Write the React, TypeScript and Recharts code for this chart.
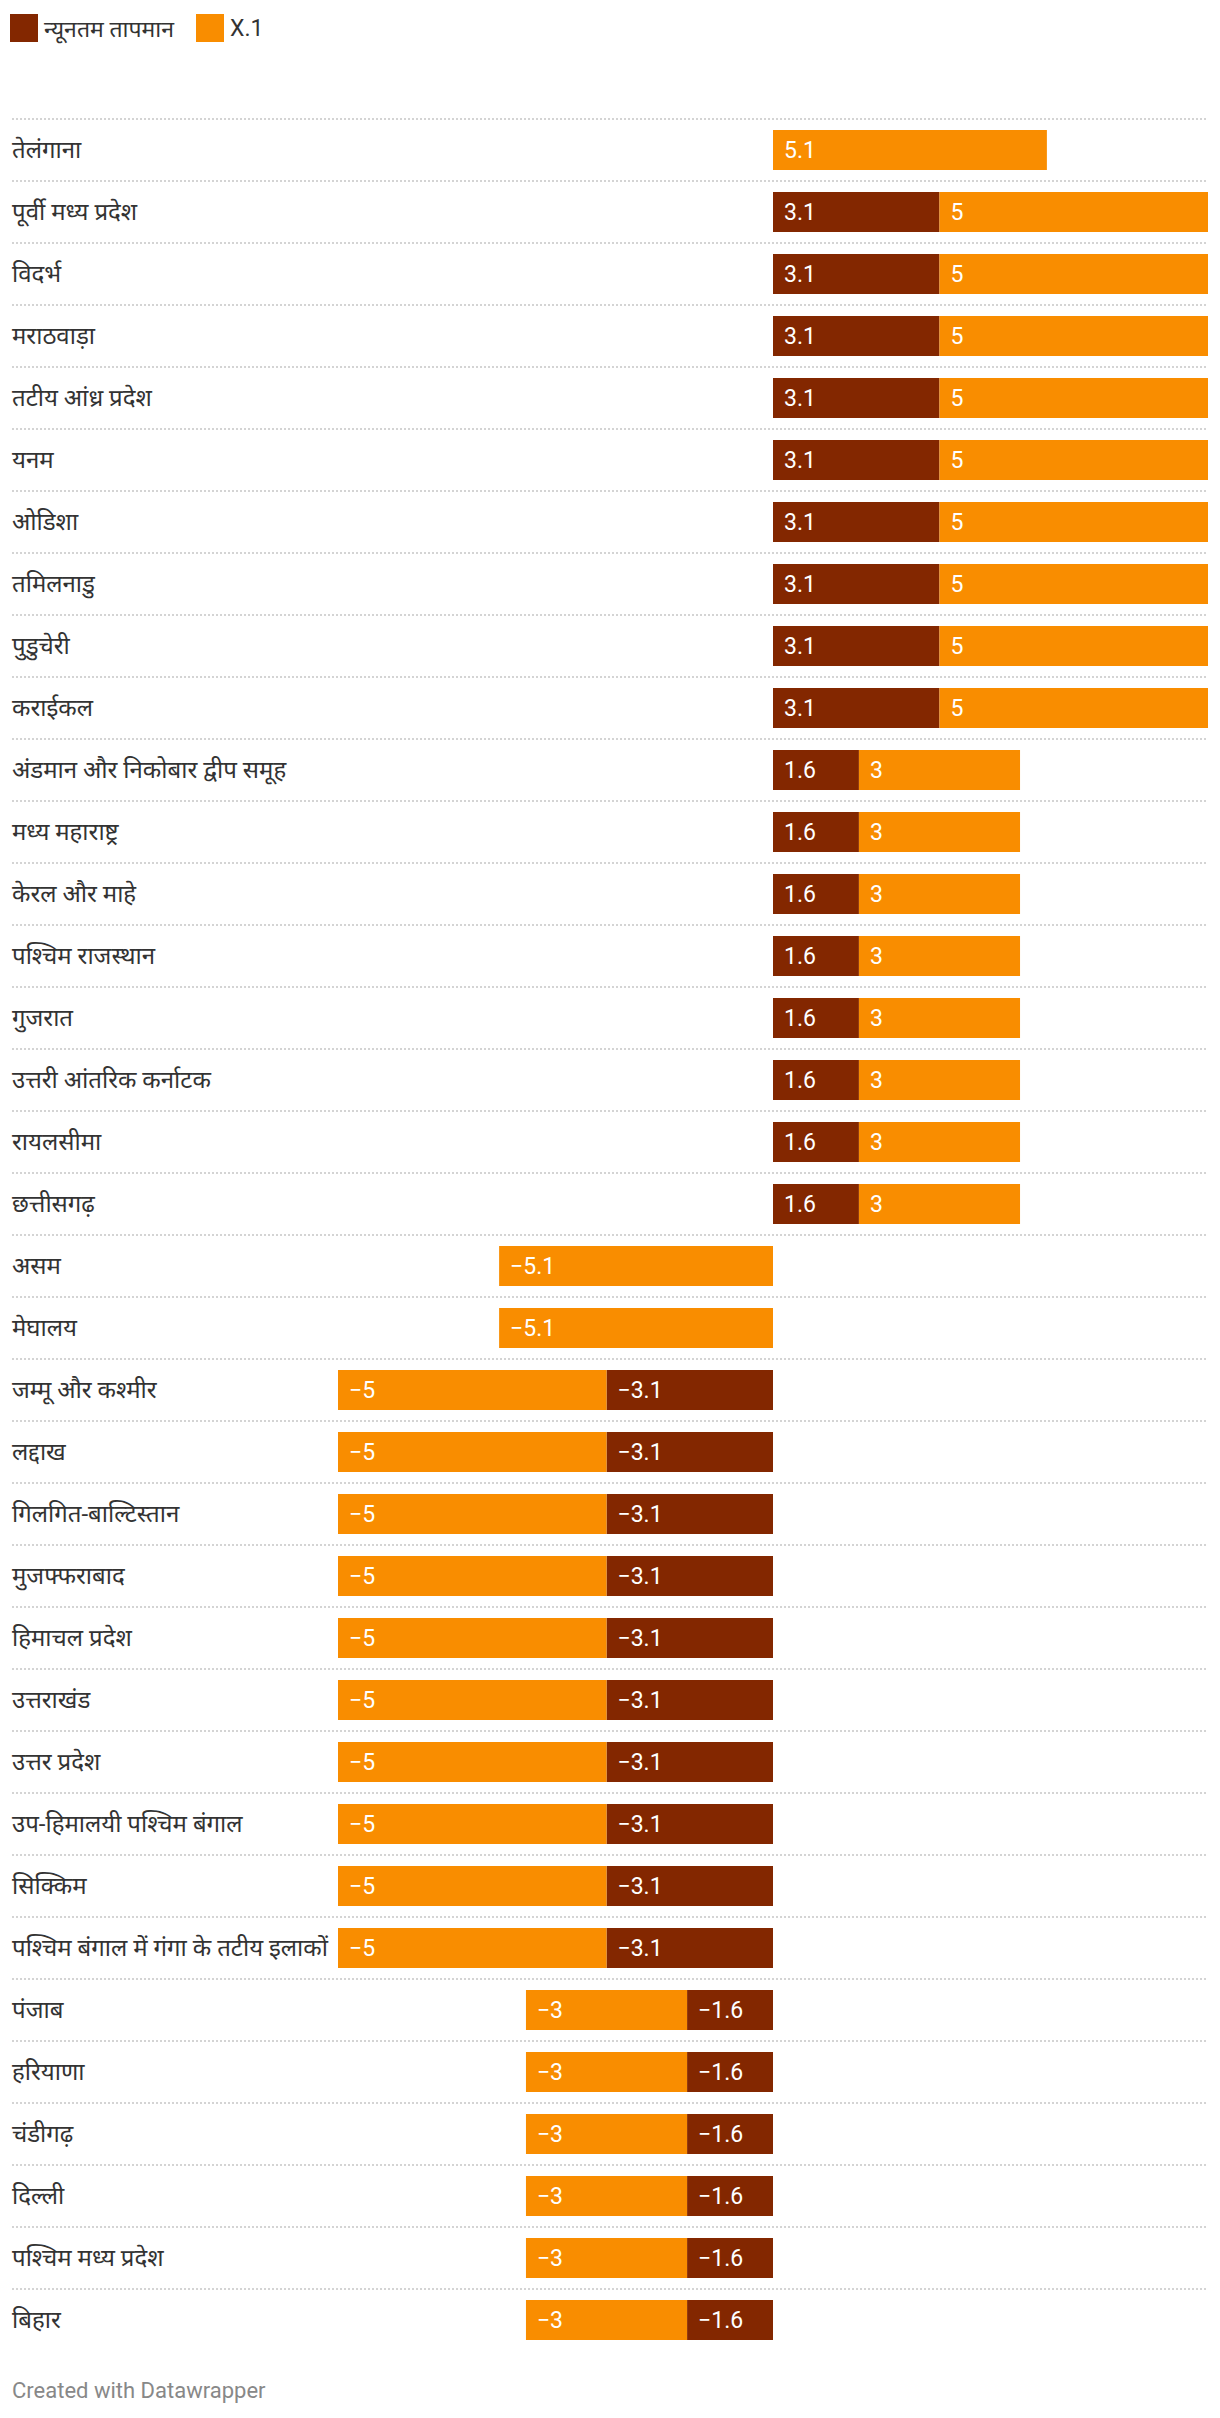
import React from "react";
import { BarChart, Bar, XAxis, YAxis, LabelList, Legend } from "recharts";

const REGIONS = [
  "तेलंगाना",
  "पूर्वी मध्य प्रदेश",
  "विदर्भ",
  "मराठवाड़ा",
  "तटीय आंध्र प्रदेश",
  "यनम",
  "ओडिशा",
  "तमिलनाडु",
  "पुडुचेरी",
  "कराईकल",
  "अंडमान और निकोबार द्वीप समूह",
  "मध्य महाराष्ट्र",
  "केरल और माहे",
  "पश्चिम राजस्थान",
  "गुजरात",
  "उत्तरी आंतरिक कर्नाटक",
  "रायलसीमा",
  "छत्तीसगढ़",
  "असम",
  "मेघालय",
  "जम्मू और कश्मीर",
  "लद्दाख",
  "गिलगित-बाल्टिस्तान",
  "मुजफ्फराबाद",
  "हिमाचल प्रदेश",
  "उत्तराखंड",
  "उत्तर प्रदेश",
  "उप-हिमालयी पश्चिम बंगाल",
  "सिक्किम",
  "पश्चिम बंगाल में गंगा के तटीय इलाकों",
  "पंजाब",
  "हरियाणा",
  "चंडीगढ़",
  "दिल्ली",
  "पश्चिम मध्य प्रदेश",
  "बिहार",
];

// न्यूनतम तापमान
const MIN_TEMP: (number | null)[] = [
  null, 3.1, 3.1, 3.1, 3.1, 3.1, 3.1, 3.1, 3.1, 3.1,
  1.6, 1.6, 1.6, 1.6, 1.6, 1.6, 1.6, 1.6,
  null, null,
  -3.1, -3.1, -3.1, -3.1, -3.1, -3.1, -3.1, -3.1, -3.1, -3.1,
  -1.6, -1.6, -1.6, -1.6, -1.6, -1.6,
];

// X.1
const X1: number[] = [
  5.1, 5, 5, 5, 5, 5, 5, 5, 5, 5,
  3, 3, 3, 3, 3, 3, 3, 3,
  -5.1, -5.1,
  -5, -5, -5, -5, -5, -5, -5, -5, -5, -5,
  -3, -3, -3, -3, -3, -3,
];

const SERIES_NAMES = ["न्यूनतम तापमान", "X.1"];
const COLORS = ["#832700", "#f98d00"];

const data = REGIONS.map((region, i) => ({
  region,
  min: MIN_TEMP[i],
  x1: X1[i],
}));

const FONT = "Roboto, 'Noto Sans', sans-serif";
const fmt = (v: number) => (v < 0 ? "\u2212" + Math.abs(v) : String(v));

function RegionTick(props: any) {
  const { y, payload } = props;
  return (
    <g>
      <line
        x1={12}
        x2={1208}
        y1={y - 31}
        y2={y - 31}
        stroke="#d4d4d4"
        strokeWidth={2}
        strokeDasharray="2 2"
      />
      <text x={12} y={y} dy="0.35em" fill="#333" fontSize={24} fontFamily={FONT}>
        {payload.value}
      </text>
    </g>
  );
}

function ValueLabel(props: any) {
  const { x, y, width, height, value } = props;
  if (value == null || value === 0) return null;
  const left = width < 0 ? x + width : x;
  return (
    <text
      x={left + 11}
      y={y + height / 2}
      dy="0.35em"
      fill="#fff"
      fontSize={23}
      fontFamily={FONT}
    >
      {fmt(value)}
    </text>
  );
}

function LegendContent(props: any) {
  const items = [...(props.payload || [])].sort(
    (a: any, b: any) => SERIES_NAMES.indexOf(a.value) - SERIES_NAMES.indexOf(b.value),
  );
  return (
    <div style={{ display: "flex", height: 56, paddingLeft: 10, paddingTop: 14, boxSizing: "border-box", fontFamily: FONT }}>
      {items.map((it: any) => (
        <div key={it.value} style={{ display: "flex", alignItems: "center", height: 28, marginRight: 22 }}>
          <div style={{ width: 28, height: 28, background: it.color, marginRight: 6 }} />
          <span style={{ fontSize: 23, color: "#333" }}>{it.value}</span>
        </div>
      ))}
    </div>
  );
}

export default function App() {
  return (
    <div style={{ position: "absolute", left: 0, top: 0, width: 1220, height: 2418, background: "#fff" }}>
      <BarChart
        width={1220}
        height={2418}
        data={data}
        layout="vertical"
        stackOffset="sign"
        barSize={40}
        margin={{ top: 63, right: 12, bottom: 67, left: 0 }}
      >
        <Legend
          verticalAlign="top"
          align="left"
          content={<LegendContent />}
          wrapperStyle={{ top: 0, left: 0 }}
        />
        <XAxis type="number" domain={[-8.1, 8.1]} hide />
        <YAxis
          type="category"
          dataKey="region"
          width={338}
          axisLine={false}
          tickLine={false}
          interval={0}
          tick={<RegionTick />}
        />
        <Bar dataKey="min" name={SERIES_NAMES[0]} stackId="a" fill={COLORS[0]} isAnimationActive={false}>
          <LabelList dataKey="min" content={<ValueLabel />} />
        </Bar>
        <Bar dataKey="x1" name={SERIES_NAMES[1]} stackId="a" fill={COLORS[1]} isAnimationActive={false}>
          <LabelList dataKey="x1" content={<ValueLabel />} />
        </Bar>
      </BarChart>
      <div
        style={{
          position: "absolute",
          left: 12,
          top: 2378,
          fontSize: 22,
          color: "#888",
          fontFamily: FONT,
        }}
      >
        Created with Datawrapper
      </div>
    </div>
  );
}
